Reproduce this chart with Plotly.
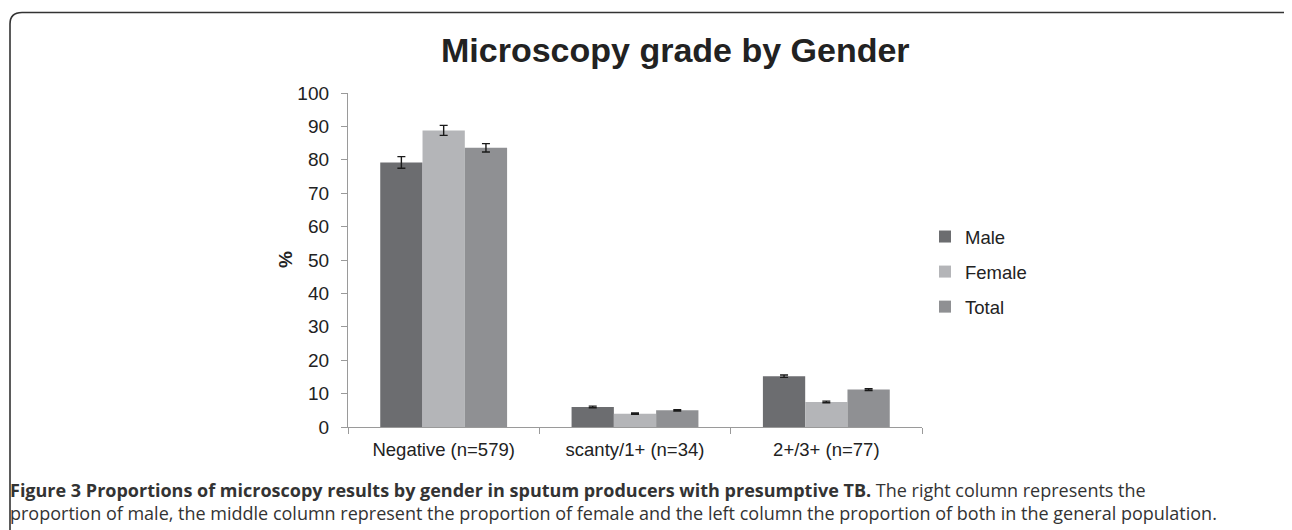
import plotly.graph_objects as go

categories = ["Negative (n=579)", "scanty/1+ (n=34)", "2+/3+ (n=77)"]
male = [79.2, 6.0, 15.2]
female = [88.8, 4.0, 7.5]
total = [83.6, 5.0, 11.2]
male_err = [1.75, 0.25, 0.35]
female_err = [1.5, 0.2, 0.25]
total_err = [1.25, 0.2, 0.25]
series_names = ["Male", "Female", "Total"]
colors = ["#6c6d70", "#b4b5b8", "#8f9093"]
y_ticks = list(range(0, 101, 10))

OFF = 8  # page body margin offset
W, H = 1292 - OFF, 530 - OFF
# plot area in screen pixels
SL, SR, ST, SB = 348, 922, 93, 427
L, R, T, B = SL - OFF, SR - OFF, ST - OFF, SB - OFF


def px(x):  # screen pixel -> paper
    return (x - OFF - L) / (R - L)


def py(y):
    return (B - (y - OFF)) / (B - T)


fig = go.Figure()
for name, vals, errs, col in zip(series_names, [male, female, total],
                                 [male_err, female_err, total_err], colors):
    fig.add_trace(go.Bar(
        x=categories, y=vals, name=name, legendgroup=name,
        marker=dict(color=col, line=dict(width=0)),
        error_y=dict(type="data", array=errs, visible=True,
                     color="#1a1a1a", thickness=1.4, width=4),
    ))

fig.update_layout(
    width=W, height=H,
    margin=dict(l=L, r=W - R, t=T, b=H - B, pad=0),
    paper_bgcolor="white", plot_bgcolor="white",
    barmode="group", bargap=0.337, bargroupgap=0,
    font=dict(family="Liberation Sans, Arial, sans-serif", size=18, color="#222"),
    showlegend=True,
    legend=dict(x=px(925), y=py(218), xanchor="left", yanchor="top",
                font=dict(size=18.5, color="#222"), tracegroupgap=8,
                itemwidth=30, bgcolor="rgba(0,0,0,0)"),
    xaxis=dict(showgrid=False, showline=True, linecolor="#9a9a9a", linewidth=1.3,
               ticks="outside", tickson="boundaries", ticklen=6, tickcolor="#9a9a9a",
               ticklabelstandoff=6,
               tickfont=dict(size=18.5, color="#222")),
    yaxis=dict(range=[0, 100], tickvals=y_ticks, showgrid=False, showline=True,
               linecolor="#9a9a9a", linewidth=1.3, ticks="outside", ticklen=6,
               tickcolor="#9a9a9a", zeroline=False, ticklabelstandoff=8,
               tickfont=dict(size=19, color="#222")),
)

# Title
fig.add_annotation(text="<b>Microscopy grade by Gender</b>", xref="paper", yref="paper",
                   x=px(675), y=py(50), xanchor="center", yanchor="middle",
                   showarrow=False, font=dict(size=34, color="#222",
                                              family="Liberation Sans, Arial, sans-serif"))
# Y axis label
fig.add_annotation(text="<b>%</b>", xref="paper", yref="paper", x=px(285), y=py(260),
                   xanchor="center", yanchor="middle", textangle=-90, showarrow=False,
                   font=dict(size=19, color="#222"))

# Caption (two lines in one text block)
cap_font = dict(family="Open Sans, Noto Sans, sans-serif", size=18, color="#333")
fig.add_annotation(
    text="<b>Figure 3 Proportions of microscopy results by gender in sputum producers with presumptive TB.</b>"
         " The right column represents the<br>"
         "proportion of male, the middle column represent the proportion of female and the left column "
         "the proportion of both in the general population.",
    xref="paper", yref="paper", x=px(8), y=py(501), xanchor="left", yanchor="middle",
    showarrow=False, font=cap_font, align="left")

# Frame (rounded top corners)
path = (f"M {px(10)} {py(540)} L {px(10)} {py(24)} Q {px(10)} {py(12.5)} {px(22)} {py(12.5)} "
        f"L {px(1283)} {py(12.5)} Q {px(1290)} {py(12.5)} {px(1292)} {py(18)}")
fig.add_shape(type="path", path=path, xref="paper", yref="paper",
              line=dict(color="#333", width=1.6))

fig.write_html("out.html")
